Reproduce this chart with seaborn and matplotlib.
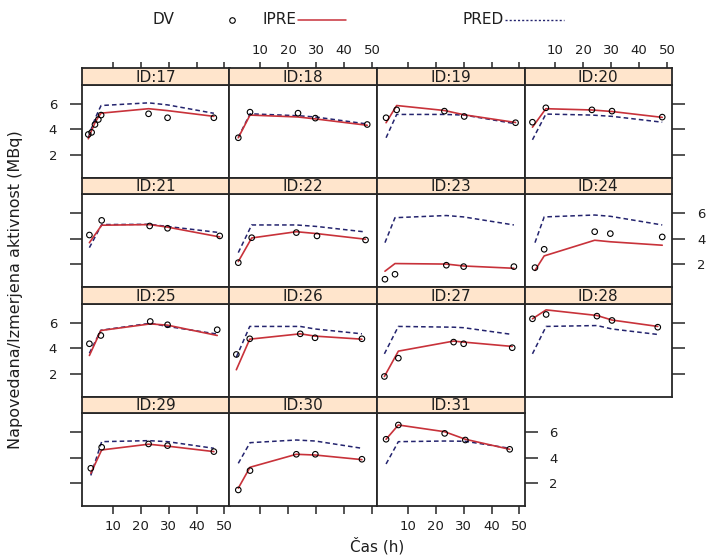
import numpy as np
import pandas as pd
import matplotlib
matplotlib.use("Agg")
import matplotlib.pyplot as plt
from matplotlib.lines import Line2D
import seaborn as sns

# Subject panels
ids = [17, 18, 19, 20, 21, 22, 23, 24, 25, 26, 27, 28, 29, 30, 31]

# Sampling times (h) per subject
times = [
    [1.2, 2.4, 3.6, 4.8, 5.8, 22.8, 29.6, 46.2],
    [2.1, 6.3, 23.5, 29.7, 48.3],
    [2.2, 6.0, 23.1, 30.2, 48.6],
    [1.8, 6.6, 23.1, 30.3, 48.3],
    [1.6, 6.0, 23.2, 29.6, 48.3],
    [2.1, 6.9, 22.9, 30.3, 47.7],
    [1.8, 5.4, 23.8, 30.0, 48.0],
    [2.7, 6.0, 24.1, 29.7, 48.3],
    [1.6, 5.7, 23.4, 29.6, 47.4],
    [1.4, 6.2, 24.3, 29.6, 46.4],
    [1.6, 6.6, 26.4, 30.0, 47.4],
    [1.8, 6.7, 24.9, 30.3, 46.7],
    [2.1, 6.0, 22.8, 29.6, 46.2],
    [2.1, 6.3, 22.9, 29.7, 46.4],
    [2.2, 6.6, 23.2, 30.6, 46.5],
]

# Measured activity (MBq)
dv = [
    [3.58, 3.74, 4.36, 4.75, 5.10, 5.20, 4.89, 4.89],
    [3.32, 5.33, 5.25, 4.86, 4.36],
    [4.89, 5.51, 5.41, 4.99, 4.50],
    [4.54, 5.67, 5.51, 5.41, 4.94],
    [4.28, 5.43, 4.99, 4.81, 4.21],
    [2.11, 4.07, 4.47, 4.21, 3.89],
    [0.81, 1.20, 1.91, 1.80, 1.80],
    [1.72, 3.16, 4.54, 4.39, 4.13],
    [4.34, 4.99, 6.09, 5.83, 5.44],
    [3.50, 4.73, 5.12, 4.81, 4.73],
    [1.77, 3.21, 4.47, 4.34, 4.03],
    [6.30, 6.64, 6.51, 6.17, 5.64],
    [3.16, 4.81, 5.07, 4.94, 4.47],
    [1.46, 2.98, 4.26, 4.26, 3.87],
    [5.44, 6.56, 5.90, 5.38, 4.65],
]

# Individual predictions
ipre = [
    [3.24, 3.90, 4.50, 4.95, 5.25, 5.60, 5.45, 5.00],
    [3.32, 5.10, 4.95, 4.80, 4.30],
    [4.50, 5.85, 5.46, 5.12, 4.52],
    [4.15, 5.60, 5.50, 5.38, 4.92],
    [3.68, 5.05, 5.10, 4.90, 4.13],
    [2.20, 4.05, 4.54, 4.39, 3.95],
    [1.44, 2.04, 2.00, 1.85, 1.67],
    [1.50, 2.64, 3.87, 3.75, 3.48],
    [3.42, 5.38, 5.90, 5.80, 4.99],
    [2.30, 4.70, 5.12, 4.94, 4.70],
    [1.77, 3.76, 4.55, 4.47, 4.13],
    [6.30, 7.00, 6.56, 6.20, 5.70],
    [2.77, 4.60, 5.05, 4.90, 4.47],
    [1.60, 3.24, 4.26, 4.20, 3.84],
    [5.44, 6.56, 6.03, 5.44, 4.65],
]

# Population predictions
pred = [
    [3.30, 4.10, 4.80, 5.40, 5.85, 6.06, 5.90, 5.24],
    [3.35, 5.20, 5.05, 4.95, 4.40],
    [3.32, 5.15, 5.15, 5.10, 4.42],
    [3.16, 5.18, 5.10, 5.00, 4.54],
    [3.29, 5.10, 5.12, 4.95, 4.47],
    [2.90, 5.07, 5.07, 4.95, 4.52],
    [3.68, 5.64, 5.81, 5.70, 5.07],
    [3.68, 5.70, 5.85, 5.75, 5.07],
    [3.60, 5.40, 5.95, 5.70, 5.10],
    [3.29, 5.70, 5.70, 5.50, 5.12],
    [3.55, 5.70, 5.64, 5.60, 5.07],
    [3.55, 5.70, 5.77, 5.50, 5.07],
    [2.60, 5.25, 5.33, 5.25, 4.73],
    [3.55, 5.17, 5.38, 5.30, 4.73],
    [3.50, 5.25, 5.30, 5.28, 4.73],
]

x_ticks = [10, 20, 30, 40, 50]
y_ticks = [2, 4, 6]

sns.set_style("white")
plt.rcParams["font.family"] = ["DejaVu Sans"]

W, H = 720, 558
fig = plt.figure(figsize=(W / 100, H / 100), dpi=100)
fig.patch.set_facecolor("white")

RED = "#c8323a"
NAVY = "#24246e"
FRAME = "#262626"
TXT = "#1e1e1e"
STRIP = "#ffe5cc"

X0, Y0 = 82.0, 68.0              # top-left corner of the panel grid (px)
CW, RH, SH = 147.5, 109.5, 16.5  # column width, row height, strip height
XLIM = (-1.05, 51.8)
YLIM = (0.2, 7.5)
NCOL = 4
nrow = int(np.ceil(len(ids) / NCOL))
TICK_FS = 9.5


def fx(px):
    return px / W


def fy(py):
    return 1 - py / H


for k, sid in enumerate(ids):
    r, c = divmod(k, NCOL)
    left = X0 + c * CW
    top = Y0 + r * RH
    ax = fig.add_axes([fx(left), fy(top + RH), CW / W, (RH - SH) / H])
    sax = fig.add_axes([fx(left), fy(top + SH), CW / W, SH / H])

    df = pd.DataFrame({"t": times[k], "DV": dv[k], "IPRE": ipre[k], "PRED": pred[k]})
    sns.lineplot(data=df, x="t", y="PRED", ax=ax, color=NAVY, lw=1.1,
                 linestyle=(0, (3, 2)), estimator=None, sort=False)
    sns.lineplot(data=df, x="t", y="IPRE", ax=ax, color=RED, lw=1.2,
                 estimator=None, sort=False)
    sns.scatterplot(data=df, x="t", y="DV", ax=ax, marker="o", s=16,
                    facecolors="none", edgecolors="black", linewidths=0.8, zorder=5)

    ax.set_xlim(*XLIM)
    ax.set_ylim(*YLIM)
    ax.set_xlabel("")
    ax.set_ylabel("")
    ax.set_xticks(x_ticks)
    ax.set_yticks(y_ticks)
    for sp in ax.spines.values():
        sp.set_color(FRAME)
        sp.set_linewidth(1.3)

    bottom_row = (r == nrow - 1)
    ax.tick_params(axis="x", bottom=bottom_row, top=False,
                   labelbottom=bottom_row and c % 2 == 0, labeltop=False,
                   direction="out", length=6, width=1.1, color=FRAME,
                   labelsize=TICK_FS, pad=4, labelcolor=TXT)
    right_axis = (c == NCOL - 1) or (k == len(ids) - 1 and bottom_row)
    ax.tick_params(axis="y", left=(c == 0), right=right_axis,
                   labelleft=(c == 0 and r % 2 == 0),
                   labelright=(right_axis and r % 2 == 1),
                   direction="out", length=9, width=1.1, color=FRAME,
                   labelsize=TICK_FS, pad=9, labelcolor=TXT)

    # strip with subject label
    sax.set_facecolor(STRIP)
    sax.set_xlim(*XLIM)
    sax.set_ylim(0, 1)
    sax.set_yticks([])
    sax.set_xticks(x_ticks)
    sax.tick_params(axis="x", bottom=False, labelbottom=False, top=(r == 0),
                    labeltop=(r == 0 and c % 2 == 1), direction="out", length=4,
                    width=1.1, color=FRAME, labelsize=TICK_FS, pad=4, labelcolor=TXT)
    for sp in sax.spines.values():
        sp.set_color(FRAME)
        sp.set_linewidth(1.3)
    sax.text(0.5, 0.45, f"ID:{sid}", transform=sax.transAxes, ha="center",
             va="center", fontsize=11, color=TXT)

# axis titles
fig.text(fx(377), fy(546), "Čas (h)", ha="center", va="center", fontsize=11,
         color=TXT)
fig.text(fx(16), fy(290), "Napovedana/Izmerjena aktivnost (MBq)", rotation=90,
         ha="center", va="center", fontsize=11.5, color=TXT)

# key above the panels
LY = fy(20)
fig.text(fx(163), LY, "DV", ha="center", va="center", fontsize=11, color=TXT)
fig.add_artist(Line2D([fx(232)], [LY], marker="o", ms=4, mfc="none", mec="black",
                      mew=0.8, transform=fig.transFigure))
fig.text(fx(297), LY, "IPRE", ha="right", va="center", fontsize=11, color=TXT)
fig.add_artist(Line2D([fx(298), fx(346)], [LY, LY], color=RED, lw=1.1,
                      transform=fig.transFigure))
fig.text(fx(504), LY, "PRED", ha="right", va="center", fontsize=11, color=TXT)
fig.add_artist(Line2D([fx(505), fx(564)], [LY, LY], color=NAVY, lw=1.0,
                      linestyle=(0, (1.5, 1.5)), transform=fig.transFigure))

fig.savefig("out.png", dpi=100, facecolor="white")
